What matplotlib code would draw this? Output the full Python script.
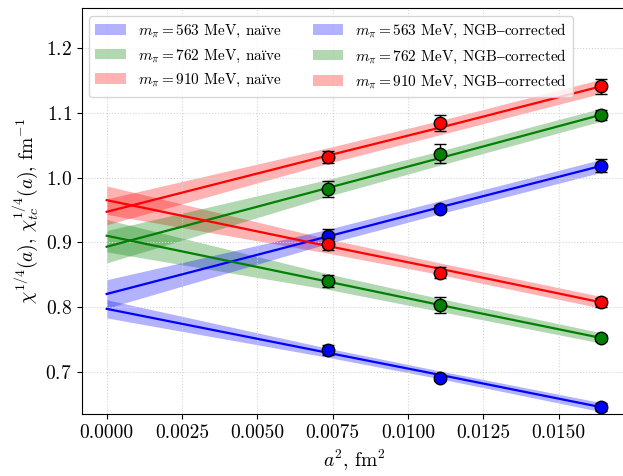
import matplotlib
matplotlib.use("Agg")
import matplotlib.pyplot as plt

plt.rcParams['font.family'] = ['cmr10', 'DejaVu Serif']
plt.rcParams['mathtext.fontset'] = 'cm'
plt.rcParams['axes.formatter.use_mathtext'] = True

# lattice spacings squared, fm^2
a2 = [0.00735, 0.01106, 0.01642]
masses = [563, 762, 910]
colors = ['blue', 'green', 'red']

# naive topological susceptibility chi^{1/4}, fm^-1
naive_y = [[0.733, 0.690, 0.645],
           [0.840, 0.803, 0.752],
           [0.898, 0.853, 0.807]]
naive_err = [[0.008, 0.005, 0.006],
             [0.010, 0.013, 0.005],
             [0.010, 0.009, 0.007]]

# NGB-corrected chi_tc^{1/4}, fm^-1
corr_y = [[0.910, 0.952, 1.018],
          [0.982, 1.037, 1.097],
          [1.032, 1.084, 1.141]]
corr_err = [[0.010, 0.005, 0.010],
            [0.012, 0.015, 0.008],
            [0.009, 0.012, 0.012]]

# continuum fits: value at the points x_fit, with band half-widths
x_fit = [0.0, 0.00735, 0.01106, 0.01642]
naive_fit = [[0.797, 0.729, 0.695, 0.645],
             [0.910, 0.839, 0.803, 0.752],
             [0.965, 0.894, 0.859, 0.807]]
naive_band = [[0.014, 0.007, 0.006, 0.007],
              [0.025, 0.012, 0.010, 0.008],
              [0.022, 0.011, 0.009, 0.009]]
corr_fit = [[0.820, 0.909, 0.954, 1.018],
            [0.893, 0.984, 1.030, 1.097],
            [0.947, 1.034, 1.077, 1.141]]
corr_band = [[0.022, 0.011, 0.010, 0.010],
             [0.025, 0.013, 0.011, 0.010],
             [0.020, 0.012, 0.011, 0.011]]

fig = plt.figure(figsize=(6.23, 4.76), dpi=100)
ax = fig.add_axes([0.1311, 0.1296, 0.8737, 0.8536])

for i in range(3):
    lo = [f - b for f, b in zip(naive_fit[i], naive_band[i])]
    hi = [f + b for f, b in zip(naive_fit[i], naive_band[i])]
    ax.fill_between(x_fit, lo, hi, color=colors[i], alpha=0.3, lw=0,
                    label=r'$m_\pi = %d$ MeV, na$\mathrm{ï}$ve' % masses[i])
for i in range(3):
    lo = [f - b for f, b in zip(corr_fit[i], corr_band[i])]
    hi = [f + b for f, b in zip(corr_fit[i], corr_band[i])]
    ax.fill_between(x_fit, lo, hi, color=colors[i], alpha=0.3, lw=0,
                    label=r'$m_\pi = %d$ MeV, NGB$\mathrm{–}$corrected' % masses[i])

for i in range(3):
    ax.plot(x_fit, naive_fit[i], color=colors[i], lw=1.6)
    ax.plot(x_fit, corr_fit[i], color=colors[i], lw=1.6)
    ax.errorbar(a2, naive_y[i], yerr=naive_err[i], fmt='o', color=colors[i],
                mec='black', ms=9, ecolor='black', elinewidth=1, capsize=4, zorder=5)
    ax.errorbar(a2, corr_y[i], yerr=corr_err[i], fmt='o', color=colors[i],
                mec='black', ms=9, ecolor='black', elinewidth=1, capsize=4, zorder=5)

ax.set_xlim(-0.00083, 0.01724)
ax.set_ylim(0.634, 1.262)
ax.set_xticks([0.0, 0.0025, 0.005, 0.0075, 0.01, 0.0125, 0.015])
ax.set_xticklabels(['0.0000', '0.0025', '0.0050', '0.0075', '0.0100', '0.0125', '0.0150'])
ax.set_yticks([0.7, 0.8, 0.9, 1.0, 1.1, 1.2])
ax.tick_params(labelsize=14)
ax.grid(True, ls=':', color='lightgray')
ax.set_xlabel(r'$a^2$, fm$^2$', fontsize=14)
ax.set_ylabel(r'$\chi^{1/4}(a)$, $\chi_{tc}^{1/4}(a)$, fm$^{-1}$', fontsize=14)
ax.legend(loc='upper left', ncol=2, fontsize=11)

fig.savefig('out.png', dpi=100)
